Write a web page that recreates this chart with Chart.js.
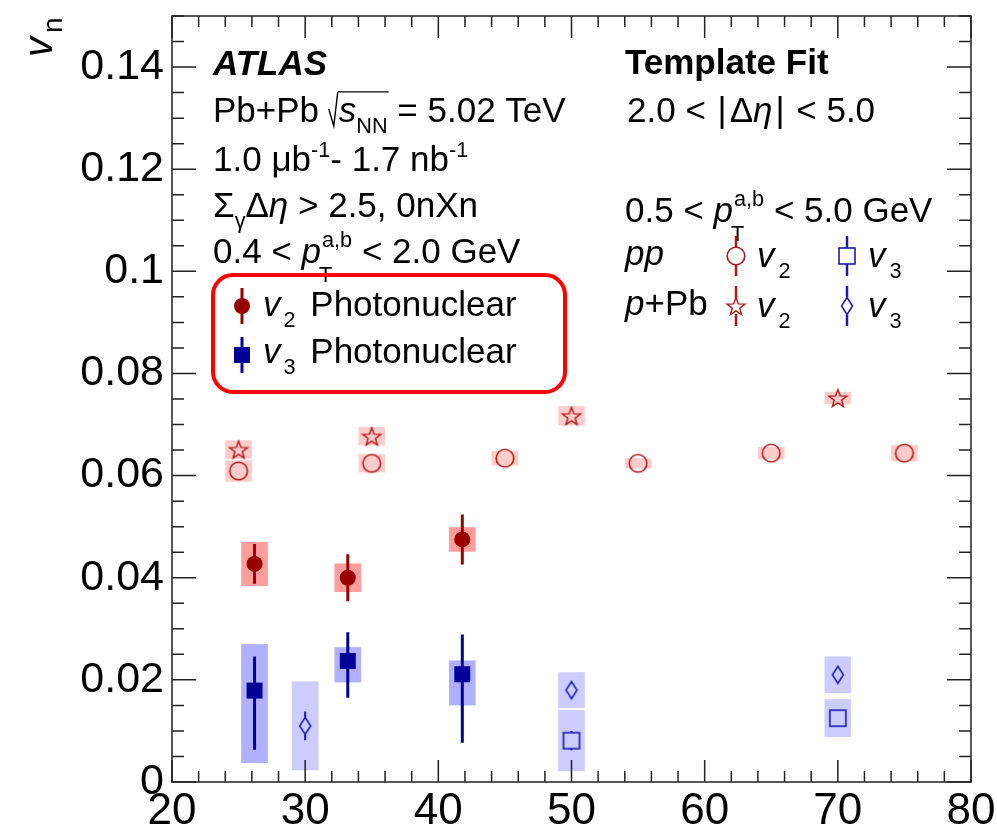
<!DOCTYPE html>
<html>
<head>
<meta charset="utf-8">
<script src="https://cdn.jsdelivr.net/npm/chart.js@4.4.1/dist/chart.umd.min.js"></script>
<style>
  html, body { margin: 0; padding: 0; background: #fff; overflow: hidden; }
  #chart-container { width: 997px; height: 829px; }
</style>
</head>
<body>
<div id="chart-container"><canvas id="myChart"></canvas></div>
<script>
// values (x = centrality-like axis, y = v_n)
const photoX = [26.2, 33.2, 41.8];
const photoV2 = [0.0427, 0.0400, 0.0475];
const photoV2Stat = [0.0039, 0.0046, 0.0049];
const photoV2Sys = [0.0043, 0.0028, 0.0024];
const photoV3 = [0.0179, 0.0237, 0.0211];
const photoV3StatUp = [0.0067, 0.0056, 0.0078];
const photoV3StatDown = [0.0116, 0.0072, 0.0134];
const photoV3SysUp = [0.0091, 0.0027, 0.0027];
const photoV3SysDown = [0.0142, 0.0042, 0.0061];

const ppV2X = [25, 35, 45, 55, 65, 75];
const ppV2 = [0.0609, 0.0624, 0.0634, 0.0624, 0.0644, 0.0644];
const ppV2Sys = [0.0021, 0.0018, 0.0014, 0.0010, 0.0012, 0.0016];

const pPbV2X = [25, 35, 50, 70];
const pPbV2 = [0.0651, 0.0677, 0.0717, 0.0752];
const pPbV2Sys = [0.0018, 0.0018, 0.0019, 0.0012];

const ppV3X = [50, 70];
const ppV3 = [0.0081, 0.0125];
const ppV3Stat = [0.0019, 0.0008];
const ppV3Sys = [0.0060, 0.0037];

const pPbV3X = [30, 50, 70];
const pPbV3 = [0.0110, 0.0180, 0.0210];
const pPbV3Stat = [0.0028, 0.0008, 0.0008];
const pPbV3Sys = [0.0087, 0.0035, 0.0036];

const xTicks = [20, 30, 40, 50, 60, 70, 80];
const xTickLabels = ["20", "30", "40", "50", "60", "70", "80"];
const yTicks = [0, 0.02, 0.04, 0.06, 0.08, 0.1, 0.12, 0.14];
const yTickLabels = ["0", "0.02", "0.04", "0.06", "0.08", "0.1", "0.12", "0.14"];

const RED = "#990000";
const BLUE = "#000099";
const RED_OPEN = "#b01818";
const BLUE_OPEN = "#1a1ab0";
const FONT = '"Liberation Sans", Arial, Helvetica, sans-serif';

function markerCanvas(w, h, draw) {
    const c = document.createElement("canvas");
    c.width = w;
    c.height = h;
    draw(c.getContext("2d"), w / 2, h / 2);
    return c;
}

const openCircle = markerCanvas(22, 22, function (g, cx, cy) {
    g.strokeStyle = RED_OPEN;
    g.lineWidth = 1.6;
    g.beginPath();
    g.arc(cx, cy, 8.8, 0, Math.PI * 2);
    g.stroke();
});

const openStar = markerCanvas(24, 24, function (g, cx, cy) {
    g.strokeStyle = RED_OPEN;
    g.lineWidth = 1.4;
    g.beginPath();
    for (let k = 0; k < 10; k++) {
        const r = k % 2 === 0 ? 9.5 : 3.9;
        const a = -Math.PI / 2 + k * Math.PI / 5;
        const px = cx + r * Math.cos(a), py = cy + 1 + r * Math.sin(a);
        if (k === 0) g.moveTo(px, py); else g.lineTo(px, py);
    }
    g.closePath();
    g.stroke();
});

const openSquare = markerCanvas(20, 20, function (g, cx, cy) {
    g.strokeStyle = BLUE_OPEN;
    g.lineWidth = 1.6;
    g.strokeRect(cx - 8, cy - 8, 16, 16);
});

const openDiamond = markerCanvas(16, 22, function (g, cx, cy) {
    g.strokeStyle = BLUE_OPEN;
    g.lineWidth = 1.5;
    g.beginPath();
    g.moveTo(cx, cy - 8.5);
    g.lineTo(cx + 5.5, cy);
    g.lineTo(cx, cy + 8.5);
    g.lineTo(cx - 5.5, cy);
    g.closePath();
    g.stroke();
});

function pts(xs, ys) {
    return xs.map(function (x, i) { return { x: x, y: ys[i] }; });
}

const datasets = [
    {
        label: "pp v2", data: pts(ppV2X, ppV2), pointStyle: openCircle, pointRadius: 9,
        errs: { statUp: ppV2Sys.map(() => 0), statDown: ppV2Sys.map(() => 0), sysUp: ppV2Sys, sysDown: ppV2Sys,
                box: "#ffcccc", line: RED_OPEN, lw: 2, gap: 9 }
    },
    {
        label: "p+Pb v2", data: pts(pPbV2X, pPbV2), pointStyle: openStar, pointRadius: 9,
        errs: { statUp: pPbV2Sys.map(() => 0), statDown: pPbV2Sys.map(() => 0), sysUp: pPbV2Sys, sysDown: pPbV2Sys,
                box: "#ffcccc", line: RED_OPEN, lw: 2, gap: 9 }
    },
    {
        label: "pp v3", data: pts(ppV3X, ppV3), pointStyle: openSquare, pointRadius: 9,
        errs: { statUp: ppV3Stat, statDown: ppV3Stat, sysUp: ppV3Sys, sysDown: ppV3Sys,
                box: "#ccccff", line: BLUE_OPEN, lw: 2, gap: 8 }
    },
    {
        label: "p+Pb v3", data: pts(pPbV3X, pPbV3), pointStyle: openDiamond, pointRadius: 9,
        errs: { statUp: pPbV3Stat, statDown: pPbV3Stat, sysUp: pPbV3Sys, sysDown: pPbV3Sys,
                box: "#ccccff", line: BLUE_OPEN, lw: 2, gap: 8.5 }
    },
    {
        label: "v2 Photonuclear", data: pts(photoX, photoV2), pointStyle: "circle", pointRadius: 8,
        backgroundColor: RED, borderColor: RED, borderWidth: 0,
        errs: { statUp: photoV2Stat, statDown: photoV2Stat, sysUp: photoV2Sys, sysDown: photoV2Sys,
                box: "#ff9c9c", line: RED, lw: 3, gap: 0 }
    },
    {
        label: "v3 Photonuclear", data: pts(photoX, photoV3), pointStyle: "rect", pointRadius: 11.3,
        backgroundColor: BLUE, borderColor: BLUE, borderWidth: 0,
        errs: { statUp: photoV3StatUp, statDown: photoV3StatDown, sysUp: photoV3SysUp, sysDown: photoV3SysDown,
                box: "#b0b0ff", line: BLUE, lw: 3, gap: 0 }
    }
];

// systematic boxes and statistical bars
const errorPlugin = {
    id: "errorBoxes",
    beforeDatasetsDraw(chart) {
        const ctx = chart.ctx, xs = chart.scales.x, ys = chart.scales.y;
        ctx.save();
        chart.data.datasets.forEach(function (ds) {
            const e = ds.errs;
            ds.data.forEach(function (p, i) {
                const x0 = xs.getPixelForValue(p.x - 1);
                const x1 = xs.getPixelForValue(p.x + 1);
                const yt = ys.getPixelForValue(p.y + e.sysUp[i]);
                const yb = ys.getPixelForValue(p.y - e.sysDown[i]);
                ctx.fillStyle = e.box;
                ctx.fillRect(x0, yt, x1 - x0, yb - yt);
            });
        });
        chart.data.datasets.forEach(function (ds) {
            const e = ds.errs;
            ds.data.forEach(function (p, i) {
                const px = xs.getPixelForValue(p.x), py = ys.getPixelForValue(p.y);
                const top = ys.getPixelForValue(p.y + e.statUp[i]);
                const bot = ys.getPixelForValue(p.y - e.statDown[i]);
                ctx.strokeStyle = e.line;
                ctx.lineWidth = e.lw;
                ctx.beginPath();
                if (py - top > e.gap) { ctx.moveTo(px, py - e.gap); ctx.lineTo(px, top); }
                if (bot - py > e.gap) { ctx.moveTo(px, py + e.gap); ctx.lineTo(px, bot); }
                ctx.stroke();
            });
        });
        ctx.restore();
    }
};

// ROOT-style frame with inward ticks on all four sides
const framePlugin = {
    id: "frame",
    afterDatasetsDraw(chart) {
        const ctx = chart.ctx, a = chart.chartArea, xs = chart.scales.x, ys = chart.scales.y;
        ctx.save();
        ctx.strokeStyle = "#222";
        ctx.lineWidth = 1.5;
        ctx.strokeRect(a.left, a.top, a.right - a.left, a.bottom - a.top);
        ctx.beginPath();
        for (let k = 0; k <= 30; k++) {
            const px = xs.getPixelForValue(20 + 2 * k);
            const len = k % 5 === 0 ? 22 : 11;
            ctx.moveTo(px, a.bottom); ctx.lineTo(px, a.bottom - len);
            ctx.moveTo(px, a.top); ctx.lineTo(px, a.top + len);
        }
        for (let k = 0; k <= 30; k++) {
            const py = ys.getPixelForValue(k * 0.005);
            const len = k % 4 === 0 ? 24 : 12;
            ctx.moveTo(a.left, py); ctx.lineTo(a.left + len, py);
            ctx.moveTo(a.right, py); ctx.lineTo(a.right - len, py);
        }
        ctx.stroke();
        ctx.restore();
    }
};

function setFont(ctx, size, it, bold) {
    ctx.font = (it ? "italic " : "") + (bold ? "bold " : "") + size + "px " + FONT;
}

// text with sub/superscripts
function richText(ctx, x, y, parts, size) {
    size = size || 35;
    ctx.save();
    ctx.translate(x, y);
    ctx.fillStyle = "#000";
    ctx.strokeStyle = "#000";
    ctx.textAlign = "left";
    ctx.textBaseline = "alphabetic";
    let cx = 0, rs = 0;
    parts.forEach(function (p) {
        if (typeof p === "string") p = { t: p };
        cx += p.dx || 0;
        if (p.rootStart) {
            ctx.lineWidth = 1.4;
            ctx.beginPath();
            ctx.moveTo(cx, -13);
            ctx.lineTo(cx + 5, 4);
            ctx.lineTo(cx + 9, -size * 0.86);
            ctx.stroke();
            cx += 10;
            rs = cx - 1;
            return;
        }
        if (p.rootEnd) {
            ctx.lineWidth = 1.4;
            ctx.beginPath();
            ctx.moveTo(rs, -size * 0.86);
            ctx.lineTo(cx + 1, -size * 0.86);
            ctx.stroke();
            return;
        }
        if (p.stack) {
            setFont(ctx, size * 0.62, false, false);
            ctx.fillText(p.sup, cx, -size * 0.45);
            const w1 = ctx.measureText(p.sup).width;
            ctx.fillText(p.sub, cx - 3, size * 0.55);
            const w2 = ctx.measureText(p.sub).width;
            cx += Math.max(w1, w2);
            return;
        }
        let fs = size, dy = 0;
        if (p.sub) { fs = size * 0.62; dy = size * 0.3; }
        if (p.sup) { fs = size * 0.62; dy = -size * 0.4; }
        setFont(ctx, fs, p.i, p.b);
        ctx.fillText(p.t, cx, dy);
        cx += ctx.measureText(p.t).width;
    });
    ctx.restore();
}

function legendMark(ctx, x, y, img, color, lw, gap, half) {
    ctx.save();
    ctx.strokeStyle = color;
    ctx.lineWidth = lw;
    ctx.beginPath();
    ctx.moveTo(x, y - half); ctx.lineTo(x, y - gap);
    ctx.moveTo(x, y + gap); ctx.lineTo(x, y + half);
    ctx.stroke();
    if (img) ctx.drawImage(img, x - img.width / 2, y - img.height / 2);
    ctx.restore();
}

const textPlugin = {
    id: "labels",
    afterDraw(chart) {
        const ctx = chart.ctx;
        ctx.save();

        // y axis title
        ctx.save();
        ctx.translate(52, 57);
        ctx.rotate(-Math.PI / 2);
        ctx.fillStyle = "#000";
        setFont(ctx, 40, true, false);
        ctx.fillText("v", 0, 0);
        setFont(ctx, 28, false, false);
        ctx.fillText("n", 24, 10);
        ctx.restore();

        // left column
        richText(ctx, 213, 75, [{ t: "ATLAS", i: true, b: true }]);
        richText(ctx, 213, 122, ["Pb+Pb ", { rootStart: true }, { t: "s", i: true }, { t: "NN", sub: true }, { rootEnd: true }, " = 5.02 TeV"]);
        richText(ctx, 213, 171, ["1.0 \u03bcb", { t: "-1", sup: true }, "- 1.7 nb", { t: "-1", sup: true }]);
        richText(ctx, 213, 217, ["\u03a3", { t: "\u03b3", sub: true }, "\u0394", { t: "\u03b7", i: true }, " > 2.5, 0nXn"]);
        richText(ctx, 213, 263, ["0.4 < ", { t: "p", i: true }, { stack: true, sup: "a,b", sub: "T", dx: 1 }, " < 2.0 GeV"]);

        // right column
        richText(ctx, 625, 74, [{ t: "Template Fit", b: true }]);
        richText(ctx, 627, 122, ["2.0 < ", { t: "|", dx: 2 }, { t: "\u0394", dx: 3 }, { t: "\u03b7", i: true }, { t: "|", dx: 3 }, { t: " < 5.0", dx: 2 }]);
        richText(ctx, 625, 222, ["0.5 < ", { t: "p", i: true }, { stack: true, sup: "a,b", sub: "T", dx: 1 }, " < 5.0 GeV"]);
        richText(ctx, 625, 265, [{ t: "pp", i: true }]);
        richText(ctx, 625, 315, [{ t: "p", i: true }, "+Pb"]);

        legendMark(ctx, 736, 256, openCircle, RED_OPEN, 2.5, 9, 20);
        legendMark(ctx, 847, 256, openSquare, BLUE_OPEN, 2.5, 8, 20);
        legendMark(ctx, 736, 306, openStar, RED_OPEN, 2.5, 8, 20);
        legendMark(ctx, 847, 306, openDiamond, BLUE_OPEN, 2.5, 8.5, 20);
        richText(ctx, 757, 267, [{ t: "v", i: true }, { t: "2", sub: true, dx: 4 }]);
        richText(ctx, 868, 267, [{ t: "v", i: true }, { t: "3", sub: true, dx: 4 }]);
        richText(ctx, 757, 317, [{ t: "v", i: true }, { t: "2", sub: true, dx: 4 }]);
        richText(ctx, 868, 317, [{ t: "v", i: true }, { t: "3", sub: true, dx: 4 }]);

        // photonuclear legend box
        ctx.strokeStyle = "#ff0000";
        ctx.lineWidth = 4;
        ctx.beginPath();
        ctx.roundRect(213, 275, 352, 117, 20);
        ctx.stroke();

        legendMark(ctx, 242, 306, null, RED, 3, 0, 18);
        ctx.fillStyle = RED;
        ctx.beginPath();
        ctx.arc(242, 306, 8, 0, Math.PI * 2);
        ctx.fill();
        legendMark(ctx, 242, 355, null, BLUE, 3, 0, 18);
        ctx.fillStyle = BLUE;
        ctx.fillRect(234, 347, 16, 16);

        richText(ctx, 263, 316, [{ t: "v", i: true }, { t: "2", sub: true, dx: 3 }, { t: " Photonuclear", dx: 5 }]);
        richText(ctx, 263, 363, [{ t: "v", i: true }, { t: "3", sub: true, dx: 3 }, { t: " Photonuclear", dx: 5 }]);

        ctx.restore();
    }
};

const config = {
    type: "scatter",
    data: { datasets: datasets },
    options: {
        responsive: true,
        maintainAspectRatio: false,
        animation: false,
        layout: { padding: { left: 0, right: 26, top: 16, bottom: 0 } },
        scales: {
            x: {
                type: "linear",
                min: 20,
                max: 80,
                grid: { display: false, drawTicks: false },
                border: { display: false },
                afterBuildTicks: function (scale) {
                    scale.ticks = xTicks.map(v => ({ value: v }));
                },
                afterFit: function (scale) {
                    scale.height = 47;
                    scale.paddingLeft = 0;
                    scale.paddingRight = 0;
                },
                ticks: {
                    color: "#000",
                    padding: 3,
                    maxRotation: 0,
                    autoSkip: false,
                    font: { family: FONT, size: 44 },
                    callback: function (v, i) { return xTickLabels[i]; }
                }
            },
            y: {
                type: "linear",
                min: 0,
                max: 0.15,
                grid: { display: false, drawTicks: false },
                border: { display: false },
                afterBuildTicks: function (scale) {
                    scale.ticks = yTicks.map(v => ({ value: v }));
                },
                afterFit: function (scale) {
                    scale.width = 172;
                    scale.paddingTop = 0;
                    scale.paddingBottom = 0;
                },
                ticks: {
                    color: "#000",
                    padding: 8,
                    autoSkip: false,
                    font: { family: FONT, size: 43 },
                    callback: function (v, i) { return yTickLabels[i]; }
                }
            }
        },
        plugins: {
            legend: { display: false },
            tooltip: { enabled: false }
        }
    },
    plugins: [framePlugin, errorPlugin, textPlugin]
};

const myChart = new Chart(document.getElementById("myChart"), config);
</script>
</body>
</html>
